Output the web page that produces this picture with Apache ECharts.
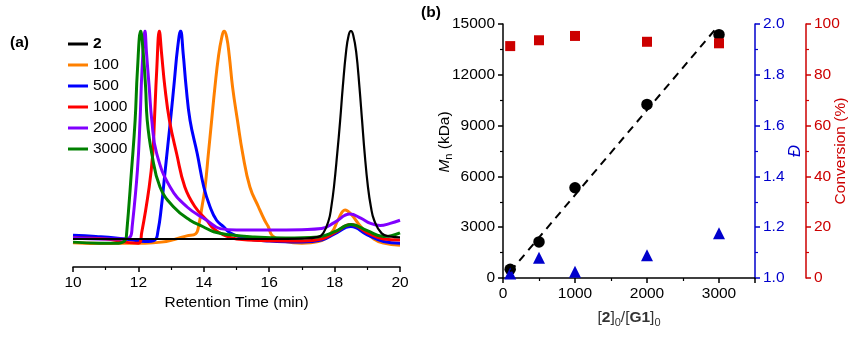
<!DOCTYPE html>
<html><head><meta charset="utf-8">
<script src="https://cdn.jsdelivr.net/npm/echarts@6/dist/echarts.min.js"></script>
<style>html,body{margin:0;padding:0;background:#fff}#c{width:868px;height:340px}</style>
</head><body><div id="c"></div>
<script>
// ---- Panel (a): GPC traces [retention time (min), normalized intensity] ----
const traceNames = ['2', '100', '500', '1000', '2000', '3000'];
const trace2 = [[10,0],[16,0],[17,0.002],[17.5,0.01],[17.65,0.027],[17.82,0.09],[17.9,0.155],[17.98,0.25],[18.08,0.41],[18.17,0.57],[18.25,0.73],[18.35,0.9],[18.43,0.98],[18.5,1.0],[18.57,0.98],[18.66,0.9],[18.76,0.73],[18.84,0.57],[18.92,0.41],[19.02,0.25],[19.11,0.155],[19.21,0.09],[19.44,0.027],[19.7,0.012],[20,0.008]];
const trace100 = [[10,-0.018],[11,-0.022],[11.6,-0.02],[12.2,-0.02],[12.7,-0.015],[13.1,-0.002],[13.48,0.015],[13.75,0.025],[13.85,0.07],[13.95,0.16],[14.04,0.25],[14.14,0.41],[14.24,0.57],[14.34,0.73],[14.45,0.88],[14.55,0.97],[14.62,1.0],[14.7,0.97],[14.78,0.88],[14.88,0.73],[15.03,0.57],[15.19,0.41],[15.41,0.25],[15.67,0.155],[15.86,0.09],[15.97,0.06],[16.1,0.015],[16.5,-0.012],[17,-0.02],[17.5,-0.012],[17.9,0.03],[18.1,0.09],[18.32,0.14],[18.5,0.12],[18.8,0.06],[19.2,0.0],[19.5,-0.02],[20,-0.03]];
const trace500 = [[10,0.018],[10.7,0.012],[11.3,0.005],[11.8,-0.005],[12.2,-0.012],[12.5,-0.005],[12.6,0.04],[12.7,0.15],[12.8,0.3],[12.9,0.45],[13.0,0.6],[13.1,0.76],[13.2,0.92],[13.29,1.0],[13.37,0.89],[13.46,0.73],[13.58,0.57],[13.8,0.41],[14.0,0.25],[14.19,0.155],[14.39,0.09],[14.6,0.06],[14.8,0.03],[15.2,0.005],[16,-0.01],[17,-0.015],[17.6,-0.005],[18.0,0.025],[18.5,0.06],[19.0,0.02],[19.5,-0.012],[20,-0.02]];
const trace1000 = [[10,0.005],[11,0.0],[11.6,-0.015],[12.0,-0.02],[12.1,0.03],[12.33,0.25],[12.44,0.41],[12.49,0.57],[12.56,0.81],[12.64,1.0],[12.71,0.89],[12.81,0.73],[12.95,0.57],[13.17,0.41],[13.42,0.25],[13.73,0.155],[14.09,0.09],[14.3,0.05],[14.6,0.02],[15,0.0],[16,-0.008],[17,-0.01],[17.6,0.0],[18.0,0.03],[18.5,0.07],[19.0,0.03],[19.5,0.0],[20,-0.005]];
const trace2000 = [[10,0.005],[11,0.0],[11.5,0.0],[11.75,0.01],[11.81,0.06],[11.97,0.33],[12.05,0.57],[12.11,0.81],[12.2,1.0],[12.25,0.89],[12.33,0.73],[12.41,0.57],[12.56,0.41],[12.97,0.25],[13.48,0.155],[14.09,0.09],[14.5,0.05],[15,0.043],[16,0.043],[17,0.045],[17.6,0.05],[18.0,0.08],[18.47,0.12],[18.8,0.1],[19.1,0.075],[19.39,0.065],[19.7,0.075],[20,0.09]];
const trace3000 = [[10,-0.015],[10.8,-0.02],[11.4,-0.02],[11.6,-0.005],[11.64,0.027],[11.79,0.33],[11.9,0.57],[11.97,0.81],[12.07,1.0],[12.15,0.89],[12.22,0.73],[12.27,0.57],[12.41,0.41],[12.66,0.25],[13.07,0.155],[13.58,0.09],[13.98,0.059],[14.3,0.035],[14.8,0.02],[15.5,0.01],[16.5,0.005],[17.5,0.01],[18.0,0.035],[18.5,0.07],[19.0,0.04],[19.5,0.012],[20,0.03]];
const traceColors = ['#000000', '#ff8000', '#0000ff', '#ff0000', '#8000ff', '#008000'];
const traceData = [trace2, trace100, trace500, trace1000, trace2000, trace3000];

// ---- Panel (b) ----
const ratio = [100, 500, 1000, 2000, 3000];
const mn = [514, 2130, 5330, 10250, 14370];
const dispersity = [1.018, 1.08, 1.025, 1.09, 1.176];
const conversion = [91.3, 93.6, 95.3, 93.0, 92.4];
const fitLine = [[100, 380], [2950, 14690]];

const FONT = 'Liberation Sans, Arial, sans-serif';
const FS = 15.5;
const blue = '#0000cc';
const red = '#cc0000';

const chart = echarts.init(document.getElementById('c'), null, {renderer: 'canvas'});

const leftSeries = [];
[1, 2, 3, 4, 5, 0].forEach(i => {
  leftSeries.push({
    name: traceNames[i], type: 'line', xAxisIndex: 0, yAxisIndex: 0,
    data: traceData[i], showSymbol: false, symbol: 'none',
    smooth: 0.45,
    lineStyle: {color: traceColors[i], width: i === 0 ? 2.2 : 3, join: 'round'},
    itemStyle: {color: traceColors[i]},
    emphasis: {disabled: true}
  });
});

function pairs(xs, ys) { return xs.map((x, k) => [x, ys[k]]); }
const plain = v => String(v);

const option = {
  animation: false,
  textStyle: {fontFamily: FONT},
  grid: [
    {left: 73, width: 327, top: 31, height: 236},
    {left: 503, width: 252, top: 24, height: 254}
  ],
  legend: {
    orient: 'vertical', left: 63, top: 31, itemWidth: 20, itemHeight: 3, itemGap: 5,
    icon: 'rect',
    textStyle: {fontSize: FS, color: '#000', fontFamily: FONT},
    data: traceNames.map(n => n === '2' ? {name: n, textStyle: {fontWeight: 'bold'}} : {name: n})
  },
  xAxis: [
    {
      gridIndex: 0, type: 'value', min: 10, max: 20, interval: 2,
      name: 'Retention Time (min)', nameLocation: 'middle', nameGap: 28, nameMoveOverlap: false,
      nameTextStyle: {fontSize: FS, color: '#000', fontFamily: FONT},
      axisLine: {show: true, onZero: false, lineStyle: {color: '#000', width: 1.5}},
      axisTick: {show: true, length: 5, lineStyle: {color: '#000', width: 1.5}},
      minorTick: {show: true, splitNumber: 2, length: 3, lineStyle: {color: '#000', width: 1.2}},
      axisLabel: {fontSize: FS, color: '#000', margin: 8, fontFamily: FONT, formatter: plain},
      splitLine: {show: false}
    },
    {
      gridIndex: 1, type: 'value', min: 0, max: 3500, interval: 1000,
      name: '[{b|2}]{s|0}/[{b|G1}]{s|0}', nameLocation: 'middle', nameGap: 30, nameMoveOverlap: false,
      nameTextStyle: {fontSize: FS, color: '#333', fontFamily: FONT,
        rich: {
          b: {fontSize: FS, fontWeight: 'bold', color: '#333', fontFamily: FONT},
          s: {fontSize: 11, color: '#333', fontFamily: FONT, padding: [9, 0, 0, 0]}
        }},
      axisLine: {show: true, onZero: false, lineStyle: {color: '#000', width: 1.5}},
      axisTick: {show: true, length: 5, lineStyle: {color: '#000', width: 1.5}},
      minorTick: {show: true, splitNumber: 2, length: 3, lineStyle: {color: '#000', width: 1.2}},
      axisLabel: {fontSize: FS, color: '#000', margin: 8, fontFamily: FONT,
        formatter: v => (v > 3000 ? '' : String(v))},
      splitLine: {show: false}
    }
  ],
  yAxis: [
    {gridIndex: 0, type: 'value', min: -0.1346, max: 1.0, show: false, splitLine: {show: false}},
    {
      gridIndex: 1, type: 'value', min: 0, max: 15000, interval: 3000, position: 'left',
      name: '{i|M}{s|n}{t| (kDa)}', nameLocation: 'middle', nameGap: 49, nameRotate: 90, nameMoveOverlap: false,
      nameTextStyle: {fontSize: FS, color: '#000', fontFamily: FONT, padding: [0, 0, 0, 18],
        rich: {
          i: {fontSize: FS, fontStyle: 'italic', color: '#000', fontFamily: FONT},
          s: {fontSize: 11, color: '#000', fontFamily: FONT, padding: [8, 0, 0, 0]},
          t: {fontSize: FS, color: '#000', fontFamily: FONT}
        }},
      axisLine: {show: true, onZero: false, lineStyle: {color: '#000', width: 1.5}},
      axisTick: {show: true, length: 5, lineStyle: {color: '#000', width: 1.5}},
      minorTick: {show: true, splitNumber: 2, length: 3, lineStyle: {color: '#000', width: 1.2}},
      axisLabel: {fontSize: FS, color: '#000', margin: 8, fontFamily: FONT, formatter: plain},
      splitLine: {show: false}
    },
    {
      gridIndex: 1, type: 'value', min: 1.0, max: 2.0, interval: 0.2, position: 'right',
      name: 'Đ', nameLocation: 'middle', nameGap: 32, nameRotate: 90, nameMoveOverlap: false,
      nameTextStyle: {fontSize: FS + 1, fontStyle: 'italic', color: blue, fontFamily: FONT},
      axisLine: {show: true, onZero: false, lineStyle: {color: blue, width: 1.5}},
      axisTick: {show: true, length: 5, lineStyle: {color: blue, width: 1.5}},
      minorTick: {show: true, splitNumber: 2, length: 3, lineStyle: {color: blue, width: 1.2}},
      axisLabel: {fontSize: FS, color: blue, margin: 8, fontFamily: FONT, formatter: v => v.toFixed(1)},
      splitLine: {show: false}
    },
    {
      gridIndex: 1, type: 'value', min: 0, max: 100, interval: 20, position: 'right', offset: 51,
      name: 'Conversion (%)', nameLocation: 'middle', nameGap: 27, nameRotate: 90, nameMoveOverlap: false,
      nameTextStyle: {fontSize: FS, color: red, fontFamily: FONT},
      axisLine: {show: true, onZero: false, lineStyle: {color: red, width: 1.5}},
      axisTick: {show: true, length: 5, lineStyle: {color: red, width: 1.5}},
      minorTick: {show: true, splitNumber: 2, length: 3, lineStyle: {color: red, width: 1.2}},
      axisLabel: {fontSize: FS, color: red, margin: 8, fontFamily: FONT, formatter: plain},
      splitLine: {show: false}
    }
  ],
  graphic: [
    {type: 'text', left: 10, top: 35, style: {text: '(a)', font: 'bold 15.5px ' + FONT, fill: '#000'}},
    {type: 'text', left: 421, top: 5, style: {text: '(b)', font: 'bold 15.5px ' + FONT, fill: '#000'}}
  ],
  series: leftSeries.concat([
    {type: 'line', xAxisIndex: 1, yAxisIndex: 1, data: fitLine, symbol: 'none',
     lineStyle: {color: '#000', width: 2, type: [8, 6]}, emphasis: {disabled: true}},
    {type: 'scatter', xAxisIndex: 1, yAxisIndex: 1, data: pairs(ratio, mn), symbol: 'circle', symbolSize: 11.5,
     itemStyle: {color: '#000', opacity: 1}, emphasis: {disabled: true}},
    {type: 'scatter', xAxisIndex: 1, yAxisIndex: 3, data: pairs(ratio, conversion), symbol: 'rect', symbolSize: 10,
     itemStyle: {color: red, opacity: 1}, emphasis: {disabled: true}},
    {type: 'scatter', xAxisIndex: 1, yAxisIndex: 2, data: pairs(ratio, dispersity), symbol: 'triangle', symbolSize: 12,
     itemStyle: {color: blue, opacity: 1}, emphasis: {disabled: true}}
  ])
};
chart.setOption(option);
</script>
</body></html>
